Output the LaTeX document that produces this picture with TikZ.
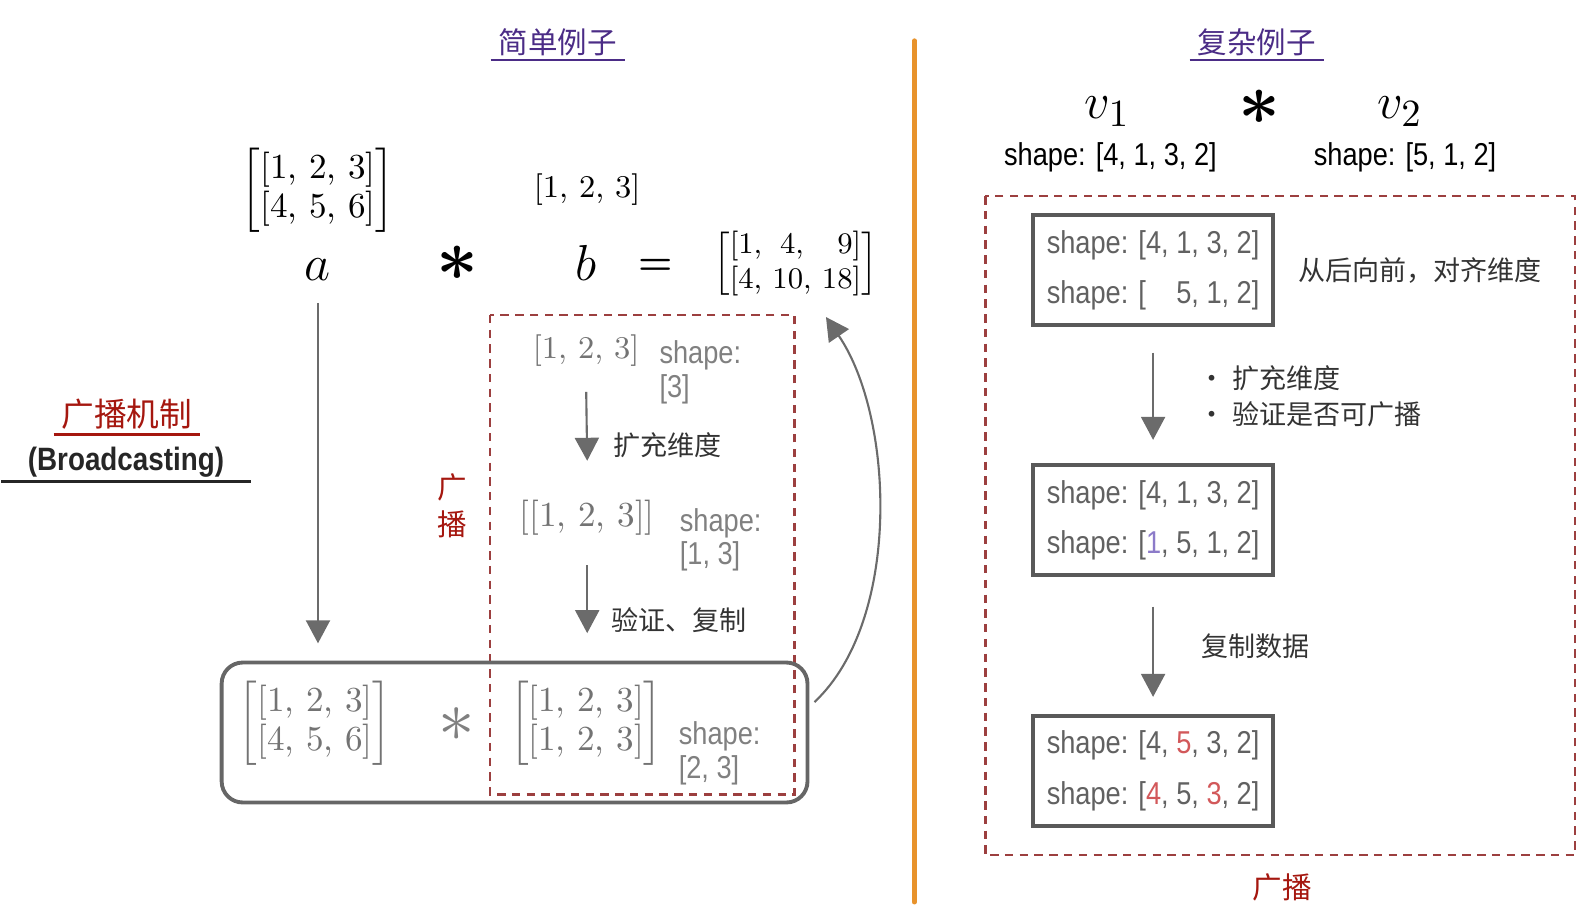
\documentclass[tikz,border=0pt]{standalone}
\usepackage{fontspec}
\usetikzlibrary{positioning,calc,arrows.meta}
\newfontfamily\cjk{Noto Sans CJK SC}
\newfontfamily\shapefont{Liberation Sans}[FakeStretch=0.86]
\definecolor{bcdash}{HTML}{9C3F3F}
\definecolor{bchead}{HTML}{A5170F}
\definecolor{bcpurple}{HTML}{4B2C86}
\definecolor{bcorange}{HTML}{E8932C}
\definecolor{hlred}{HTML}{D2585A}
\definecolor{hlviolet}{HTML}{8C7BC9}
\newcommand{\vrow}[3]{[#1,\ #2,\ #3]}
\newcommand{\twomat}[2]{$\left[\begin{tabular}{@{}l@{}}#1\\#2\end{tabular}\right]$}
\newcommand{\resmat}{$\left[\begin{tabular}{@{}l@{\ }c@{\ }r@{}}[1, & 4, & 9]\\{[}4, & 10, & 18]\end{tabular}\right]$}
\newcommand{\bast}{{\boldmath$\ast$}}
\tikzset{
  mat/.style={font=\fontsize{10}{11}\selectfont, inner sep=1pt},
  smat/.style={font=\fontsize{9}{10.5}\selectfont, inner sep=1pt},
  gmat/.style={mat, text=black!55},
  gsmat/.style={smat, text=black!55},
  letr/.style={font=\fontsize{14}{14}\selectfont, inner sep=1pt, anchor=base},
  star/.style={font=\fontsize{22}{22}\selectfont, inner sep=0pt},
  gshape/.style={font=\shapefont\fontsize{9}{9.6}\selectfont, text=black!50, align=left,
    inner sep=1pt, anchor=north west},
  shapetxt/.style={font=\shapefont\fontsize{9}{10}\selectfont, inner sep=1pt},
  shpbox/.style={draw=black!65, line width=1.1pt, font=\shapefont\fontsize{9}{14.4}\selectfont,
    text=black!62, align=left, minimum width=2.4cm, minimum height=1.1cm, inner sep=0pt},
  rbox/.style={draw=black!60, line width=1.1pt, rounded corners=6pt,
    minimum width=5.86cm, minimum height=1.4cm},
  title/.style={font=\cjk\fontsize{8.4}{10}\selectfont, text=bcpurple, inner sep=1.5pt},
  redhead/.style={font=\cjk\fontsize{9.3}{11}\selectfont, text=bchead, inner sep=1.5pt},
  bctext/.style={font=\shapefont\bfseries\fontsize{9.2}{11}\selectfont, text=black!85, inner sep=1pt},
  redcn/.style={font=\cjk\fontsize{8.4}{10.6}\selectfont, text=bchead, align=center, inner sep=1pt},
  cnlab/.style={font=\cjk\fontsize{7.7}{10}\selectfont, text=black!80, inner sep=1pt,
    anchor=west, align=left},
  flow/.style={-{Triangle[length=2.3mm,width=2.4mm]}, line width=0.6pt, draw=black!58},
  dashbox/.style={draw=bcdash, line width=0.6pt, dash pattern=on 2.4pt off 1.8pt},
  uline/.style={line width=0.7pt},
  divider/.style={draw=bcorange, line width=1.3pt, line cap=round},
}
\begin{document}
\begin{tikzpicture}[x=0.01016cm, y=-0.01016cm]
  \useasboundingbox (0,0) rectangle (1568,898);
  % simple example
  \node[title] (t1) at (549,42) {简单例子};
  \draw[bcpurple, uline] ($(t1.south west)+(-2,-2)$) -- ($(t1.south east)+(2,-2)$);
  \node[mat] (ma) at (313,187) {\twomat{\vrow{1}{2}{3}}{\vrow{4}{5}{6}}};
  \node[smat] (vb) at (578,187) {\vrow{1}{2}{3}};
  \node[letr] (a) at (313,276) {$a$};
  \node[star] (mul1) at (450,259) {\bast};
  \node[letr] (b) at (577,276) {$b$};
  \node[letr, font=\fontsize{11}{11}\selectfont] (eq) at (645,270) {{\boldmath$=$}};
  \node[smat, font=\fontsize{8.5}{9.8}\selectfont] (res) at (783,260) {\resmat};
  \node[redhead] (bm) at (125,408) {广播机制};
  \draw[bchead, uline] ($(bm.south west)+(-2,-1)$) -- ($(bm.south east)+(2,-1)$);
  \node[bctext] (bc) at (124,455) {(Broadcasting)};
  \draw[black!85, uline] ($(bc.south west)+(-22,0)$) -- ($(bc.south east)+(22,0)$);
  % broadcasting steps of b
  \draw[dashbox] (482,310) rectangle (782,782);
  \node[gsmat] (g1) at (577,345) {\vrow{1}{2}{3}};
  \node[gshape] (g1s) at (645,331) {shape:\\{[3]}};
  \node[gmat] (g2) at (578,510) {[\vrow{1}{2}{3}]};
  \node[gshape] (g2s) at (665,496) {shape:\\{[1, 3]}};
  \node[redcn] (gb) at (445,498) {广\\播};
  \node[rbox] (bx) at (506.5,721) {};
  \node[gmat] (m1) at (310,712) {\twomat{\vrow{1}{2}{3}}{\vrow{4}{5}{6}}};
  \node[star, text=black!50] (mul2) at (450,713) {$\ast$};
  \node[gmat] (m2) at (577,712) {\twomat{\vrow{1}{2}{3}}{\vrow{1}{2}{3}}};
  \node[gshape] (m2s) at (664,706) {shape:\\{[2, 3]}};
  \draw[flow] ($(g1.south)+(0,21)$) -- ($(g2.north)+(0,-35)$);
  \node[cnlab] (l1) at (600,438) {扩充维度};
  \draw[flow] ($(g2.south)+(0,25)$) -- ($(bx.north -| g2)+(0,-27)$);
  \node[cnlab] (l2) at (598,610) {验证、复制};
  \draw[flow] ($(a.south)+(0,18)$) -- ($(bx.north -| a)+(0,-17)$);
  \draw[flow] ($(bx.east)+(5,-30)$) .. controls (888,610) and (880,410) .. ($(res.south)+(30,14)$);
  % divider
  \draw[divider] (900,40) -- (900,888);
  % complex example
  \node[title] (t2) at (1237,42) {复杂例子};
  \draw[bcpurple, uline] ($(t2.south west)+(-2,-2)$) -- ($(t2.south east)+(2,-2)$);
  \node[letr, font=\fontsize{15}{15}\selectfont] (v1) at (1090,117) {$v_1$};
  \node[star] (mul3) at (1240,106) {\bast};
  \node[letr, font=\fontsize{15}{15}\selectfont] (v2) at (1378,117) {$v_2$};
  \node[shapetxt] (sv1) at (1093,155) {shape: [4, 1, 3, 2]};
  \node[shapetxt] (sv2) at (1383,155) {shape: [5, 1, 2]};
  \draw[dashbox] (970,193) rectangle (1550,842);
  \node[shpbox] (s1) at (1135,266) {shape: [4, 1, 3, 2]\\shape: [\phantom{4, }5, 1, 2]};
  \node[cnlab, right=5.5pt of s1] (r1) {从后向前，对齐维度};
  \node[shpbox] (s2) at (1135,512) {shape: [4, 1, 3, 2]\\shape: [\textcolor{hlviolet}{1}, 5, 1, 2]};
  \node[shpbox] (s3) at (1135,759)
    {shape: [4, \textcolor{hlred}{5}, 3, 2]\\shape: [\textcolor{hlred}{4}, 5, \textcolor{hlred}{3}, 2]};
  \draw[flow] ($(s1.south)+(0,25)$) -- ($(s2.north)+(0,-23)$);
  \node[cnlab] (r2) at (1176,390) {·\ 扩充维度\\·\ 验证是否可广播};
  \draw[flow] ($(s2.south)+(0,29)$) -- ($(s3.north)+(0,-17)$);
  \node[cnlab] (r3) at (1178,636) {复制数据};
  \node[redcn] (r4) at (1262,873) {广播};
\end{tikzpicture}
\end{document}
